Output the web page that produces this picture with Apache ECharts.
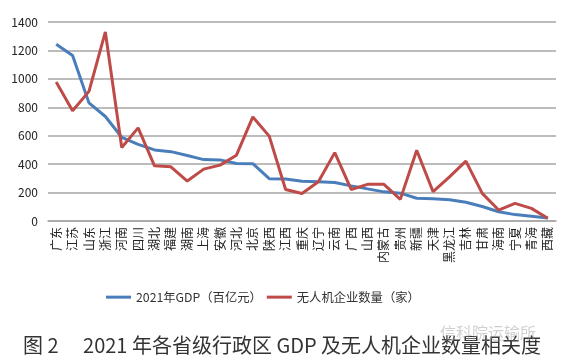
<!DOCTYPE html>
<html>
<head>
<meta charset="utf-8">
<script src="https://cdn.jsdelivr.net/npm/echarts@6/dist/echarts.min.js"></script>
<style>
html,body{margin:0;padding:0;background:#fff;}
#c{width:572px;height:361px;}
</style>
</head>
<body>
<div id="c"></div>
<script>
const provinces = ['广东','江苏','山东','浙江','河南','四川','湖北','福建','湖南','上海','安徽','河北','北京','陕西','江西','重庆','辽宁','云南','广西','山西','内蒙古','贵州','新疆','天津','黑龙江','吉林','甘肃','海南','宁夏','青海','西藏'];
const gdp = [1244,1164,831,735,589,539,500,488,461,432,430,404,403,298,296,279,276,271,247,226,205,196,160,157,149,132,102,65,45,33,21];
const drones = [978,775,912,1330,517,655,388,381,281,365,393,463,732,597,222,194,276,481,222,258,258,152,498,206,311,421,194,77,124,89,19];
const yTicks = [0,200,400,600,800,1000,1200,1400];
const seriesNames = ['2021年GDP（百亿元）','无人机企业数量（家）'];
const caption = '图 2　 2021 年各省级行政区 GDP 及无人机企业数量相关度';

const chart = echarts.init(document.getElementById('c'), null, {renderer:'canvas'});
const font = '"Noto Sans CJK SC","Noto Sans",sans-serif';
chart.setOption({
  backgroundColor:'#fff',
  animation:false,
  textStyle:{fontFamily:font},
  title:{
    text:caption,
    left:18,
    top:330,
    textStyle:{fontSize:20,fontWeight:'normal',color:'#333',fontFamily:font}
  },
  graphic:[{
    type:'text',
    left:440, top:325,
    z:100,
    style:{text:'信科院运输所',fill:'rgba(150,150,150,0.45)',font:'16px '+font}
  }],
  legend:{
    data:seriesNames,
    top:286,
    left:101,
    icon:'rect',
    itemWidth:25,
    itemHeight:3,
    itemGap:5,
    textStyle:{fontSize:12.3,color:'#333',fontFamily:font}
  },
  grid:{left:48,right:16,top:22,bottom:140,containLabel:false},
  xAxis:{
    type:'category',
    data:provinces,
    boundaryGap:true,
    axisLine:{show:true,lineStyle:{color:'#a6a6a6',width:1.5}},
    axisTick:{show:false},
    axisLabel:{rotate:90,interval:0,fontSize:12,color:'#222',margin:6,fontFamily:font}
  },
  yAxis:{
    type:'value',
    min:0,max:1400,interval:200,
    axisLine:{show:false},
    axisTick:{show:false},
    splitLine:{lineStyle:{color:'#a6a6a6',width:1.5}},
    axisLabel:{fontSize:12,color:'#222',margin:10,fontFamily:font,
      formatter:v=>yTicks.includes(v)?String(v):''}
  },
  series:[
    {name:seriesNames[0],type:'line',data:gdp,showSymbol:false,symbol:'none',
     lineStyle:{color:'#4a7ebb',width:3},itemStyle:{color:'#4a7ebb'}},
    {name:seriesNames[1],type:'line',data:drones,showSymbol:false,symbol:'none',
     lineStyle:{color:'#be4b48',width:3},itemStyle:{color:'#be4b48'}}
  ]
});
</script>
</body>
</html>
